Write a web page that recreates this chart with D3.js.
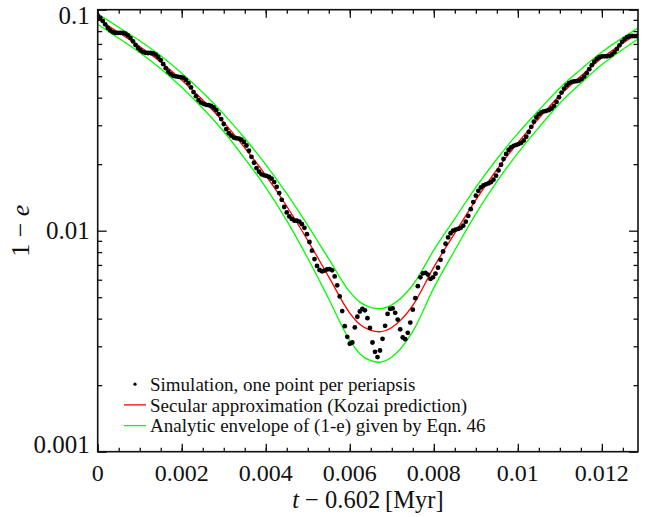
<!DOCTYPE html>
<html>
<head>
<meta charset="utf-8">
<script src="https://cdn.jsdelivr.net/npm/d3@7"></script>
<style>
	body { margin: 0; background: #fff; }
	svg { display: block; font-family: 'Liberation Serif', 'DejaVu Serif', serif; }
</style>
</head>
<body>
<div id="kozai"></div>
<script>
// secular (Kozai) curve and the analytic envelope
const secularT = [0, 0.0005, 0.001, 0.0015, 0.002, 0.0025, 0.003, 0.0035, 0.004, 0.0045, 0.005, 0.0055, 0.006, 0.00625, 0.0065, 0.0067,
	0.007, 0.0075, 0.008, 0.0085, 0.009, 0.0095, 0.01, 0.0105, 0.011, 0.0115, 0.012, 0.0125, 0.01286];
const secular = [0.0908, 0.0788, 0.0682, 0.0580, 0.0481, 0.0390, 0.0309, 0.0237, 0.0178, 0.0129, 0.00903, 0.00618, 0.00424, 0.00375, 0.00354, 0.00349,
	0.00365, 0.00459, 0.00684, 0.00975, 0.0138, 0.0189, 0.0250, 0.0322, 0.0410, 0.0501, 0.0604, 0.0705, 0.0782];
const envelopeUpper = [0.0957, 0.0833, 0.0724, 0.0619, 0.0516, 0.0422, 0.0337, 0.0262, 0.0199, 0.0147, 0.01056, 0.00745, 0.00529, 0.00474, 0.00450, 0.00444,
	0.00462, 0.00568, 0.00817, 0.01134, 0.01569, 0.02111, 0.02755, 0.03509, 0.04426, 0.0537, 0.06436, 0.07478, 0.0827];
const envelopeLower = [0.0860, 0.0743, 0.0640, 0.0541, 0.0446, 0.0358, 0.0281, 0.0212, 0.0157, 0.0111, 0.00750, 0.00491, 0.00319, 0.00276, 0.00258, 0.00254,
	0.00268, 0.00350, 0.00551, 0.00816, 0.01191, 0.01669, 0.02245, 0.02931, 0.03774, 0.0465, 0.05644, 0.06623, 0.0737];

// simulation: one point per periapsis, constant orbital period
const periapsisStep = 0.00006;
const simulation = [
	0.0941, 0.0919, 0.0889, 0.0858, 0.0828, 0.0806, 0.0791, 0.0785, 0.0785, 0.0786,
	0.0786, 0.0779, 0.0765, 0.0744, 0.0719, 0.0693, 0.0671, 0.0654, 0.0643, 0.0638,
	0.0637, 0.0637, 0.0634, 0.0626, 0.0611, 0.0591, 0.0567, 0.0544, 0.0524, 0.0511,
	0.0502, 0.0499, 0.0497, 0.0495, 0.0492, 0.0481, 0.0465, 0.0445, 0.0424, 0.0406,
	0.0390, 0.0380, 0.0375, 0.0371, 0.0370, 0.0367, 0.0361, 0.0351, 0.0337, 0.0320,
	0.0304, 0.0288, 0.0276, 0.0269, 0.0264, 0.0262, 0.0261, 0.0258, 0.0252, 0.0243,
	0.0230, 0.0216, 0.0203, 0.0192, 0.0185, 0.0180, 0.0178, 0.0177, 0.0175, 0.0172,
	0.0166, 0.0158, 0.0148, 0.0138, 0.0128, 0.0121, 0.0116, 0.0113, 0.0111, 0.0111,
	0.0110, 0.0107, 0.0103, 0.00964, 0.00889, 0.00812, 0.00744, 0.00693, 0.00664, 0.00655,
	0.00660, 0.00668, 0.00670, 0.00662, 0.00621, 0.00566, 0.00504, 0.00433, 0.00370, 0.00331,
	0.00308, 0.00312, 0.00365, 0.00408, 0.00431, 0.00443, 0.00436, 0.00402, 0.00363, 0.00312,
	0.00283, 0.00268, 0.00287, 0.00324, 0.00371, 0.00420, 0.00443, 0.00445, 0.00425, 0.00396,
	0.00358, 0.00329, 0.00323, 0.00345, 0.00384, 0.00439, 0.00495, 0.00561, 0.00615, 0.00641,
	0.00645, 0.00633, 0.00605, 0.00615, 0.00639, 0.00680, 0.00738, 0.00805, 0.00873, 0.00932,
	0.00974, 0.01000, 0.01012, 0.01019, 0.01030, 0.01054, 0.01099, 0.01166, 0.01252, 0.01347,
	0.01441, 0.01515, 0.01570, 0.01603, 0.01622, 0.01636, 0.01658, 0.01702, 0.01775, 0.01873,
	0.01988, 0.02111, 0.02225, 0.02318, 0.02383, 0.02422, 0.02445, 0.02465, 0.02497, 0.02560,
	0.02661, 0.02796, 0.02952, 0.03111, 0.03253, 0.03363, 0.03431, 0.03466, 0.03486, 0.03514,
	0.03572, 0.03674, 0.03825, 0.04017, 0.04215, 0.04397, 0.04548, 0.04654, 0.04710, 0.04735,
	0.04748, 0.04780, 0.04854, 0.04981, 0.05161, 0.05381, 0.05611, 0.05821, 0.05987, 0.06095,
	0.06151, 0.06152, 0.06151, 0.06181, 0.06270, 0.06426, 0.06643, 0.06897, 0.07152, 0.07364,
	0.07512, 0.07587, 0.07602, 0.07590, 0.07587
];

const xTicks = [0, 0.002, 0.004, 0.006, 0.008, 0.01, 0.012];
const xTickLabels = ['0', '0.002', '0.004', '0.006', '0.008', '0.01', '0.012'];
const yTicks = [0.1, 0.01, 0.001];
const yTickLabels = ['0.1', '0.01', '0.001'];
const legendLabels = [
	'Simulation, one point per periapsis',
	'Secular approximation (Kozai prediction)',
	'Analytic envelope of (1-e) given by Eqn. 46'
];

class KozaiPlot {
	constructor() {
		this.width = 646;
		this.height = 517;
		this._margins = { top: 9.7, left: 97.7, right: 8, bottom: 65.3 };
	}
	render() {
		let m = this._margins;
		let left = m.left, right = this.width - m.right;
		let top = m.top, bottom = this.height - m.bottom;
		let svg = d3.select('#kozai').append('svg')
			.attr('width', this.width)
			.attr('height', this.height);

		let xScale = d3.scaleLinear().domain([0, 0.01286]).range([left, right]);
		let yScale = d3.scaleLog().domain([0.001, 0.1]).range([bottom, top]);

		svg.append('clipPath').attr('id', 'plotClip')
			.append('rect')
			.attr('x', left).attr('y', top)
			.attr('width', right - left).attr('height', bottom - top);

		let body = svg.append('g').attr('class', 'body').attr('clip-path', 'url(#plotClip)');
		let line = d3.line()
			.x(d => xScale(d[0]))
			.y(d => yScale(d[1]))
			.curve(d3.curveMonotoneX);

		// green envelope, red secular curve
		[envelopeUpper, envelopeLower].forEach(vals => {
			body.append('path')
				.attr('d', line(secularT.map((t, i) => [t, vals[i]])))
				.attr('fill', 'none')
				.attr('stroke', '#00ff00')
				.attr('stroke-width', 1.3);
		});
		body.append('path')
			.attr('d', line(secularT.map((t, i) => [t, secular[i]])))
			.attr('fill', 'none')
			.attr('stroke', '#ff0000')
			.attr('stroke-width', 1.3);

		body.selectAll('circle.sim')
			.data(simulation)
			.enter()
			.append('circle')
			.attr('class', 'sim')
			.attr('cx', (d, i) => xScale(i * periapsisStep))
			.attr('cy', d => yScale(d))
			.attr('r', 2.4)
			.attr('fill', '#000');

		// ticks on all four sides, pointing inward
		let axesG = svg.append('g').attr('class', 'axes');
		let xMinor = d3.range(0, 0.01286, 0.0005);
		let yMinor = [];
		[0.001, 0.01].forEach(dec => {
			for (let k = 2; k <= 9; k++) yMinor.push(dec * k);
		});
		let addTicks = (axisFn, scale, values, len, transform) => {
			axesG.append('g')
				.attr('transform', transform)
				.call(axisFn(scale).tickValues(values).tickSizeInner(-len).tickSizeOuter(0).tickFormat(''))
				.call(g => g.select('.domain').remove())
				.selectAll('line')
				.attr('stroke', '#111')
				.attr('stroke-width', 1.3);
		};
		addTicks(d3.axisBottom, xScale, xMinor, 4, `translate(0,${bottom})`);
		addTicks(d3.axisBottom, xScale, xTicks, 8, `translate(0,${bottom})`);
		addTicks(d3.axisTop, xScale, xMinor, 4, `translate(0,${top})`);
		addTicks(d3.axisTop, xScale, xTicks, 8, `translate(0,${top})`);
		addTicks(d3.axisLeft, yScale, yMinor, 4.5, `translate(${left},0)`);
		addTicks(d3.axisLeft, yScale, yTicks, 9, `translate(${left},0)`);
		addTicks(d3.axisRight, yScale, yMinor, 4.5, `translate(${right},0)`);
		addTicks(d3.axisRight, yScale, yTicks, 9, `translate(${right},0)`);

		svg.append('rect')
			.attr('x', left).attr('y', top)
			.attr('width', right - left).attr('height', bottom - top)
			.attr('fill', 'none')
			.attr('stroke', '#111')
			.attr('stroke-width', 1.6);

		// tick labels
		axesG.selectAll('text.xlab')
			.data(xTicks)
			.enter()
			.append('text')
			.attr('class', 'xlab')
			.attr('x', d => xScale(d))
			.attr('y', bottom + 29.5)
			.attr('text-anchor', 'middle')
			.attr('font-size', '24px')
			.attr('fill', '#111')
			.text((d, i) => xTickLabels[i]);
		axesG.selectAll('text.ylab')
			.data(yTicks)
			.enter()
			.append('text')
			.attr('class', 'ylab')
			.attr('x', left - 8)
			.attr('y', d => Math.min(Math.max(yScale(d) + 8, top + 14), bottom + 1.6))
			.attr('text-anchor', 'end')
			.attr('font-size', '25px')
			.attr('fill', '#111')
			.text((d, i) => yTickLabels[i]);

		// axis titles
		let xTitle = svg.append('text')
			.attr('x', (left + right) / 2)
			.attr('y', 508)
			.attr('text-anchor', 'middle')
			.attr('font-size', '24.5px')
			.attr('fill', '#111');
		xTitle.append('tspan').attr('font-style', 'italic').text('t');
		xTitle.append('tspan').text(' \u2212 0.602\u2009[Myr]');

		let yTitle = svg.append('text')
			.attr('transform', `translate(29,${(top + bottom) / 2}) rotate(-90)`)
			.attr('text-anchor', 'middle')
			.attr('font-size', '26px')
			.attr('fill', '#111');
		yTitle.append('tspan').text('1 \u2212 ');
		yTitle.append('tspan').attr('font-style', 'italic').text('e');

		// legend
		let legend = svg.append('g').attr('class', 'legend');
		legendLabels.forEach((label, i) => {
			let base = 391 + 20.7 * i;
			let cy = base - 6.8;
			if (i === 0) {
				legend.append('circle').attr('cx', 135).attr('cy', cy).attr('r', 1.6).attr('fill', '#000');
			} else {
				legend.append('line')
					.attr('x1', 124).attr('x2', 146)
					.attr('y1', cy).attr('y2', cy)
					.attr('stroke', i === 1 ? '#ff0000' : '#00ff00')
					.attr('stroke-width', 1.3);
			}
			legend.append('text')
				.attr('x', 150)
				.attr('y', base)
				.attr('font-size', '19px')
				.attr('fill', '#111')
				.text(label);
		});
	}
}

new KozaiPlot().render();
</script>
</body>
</html>
